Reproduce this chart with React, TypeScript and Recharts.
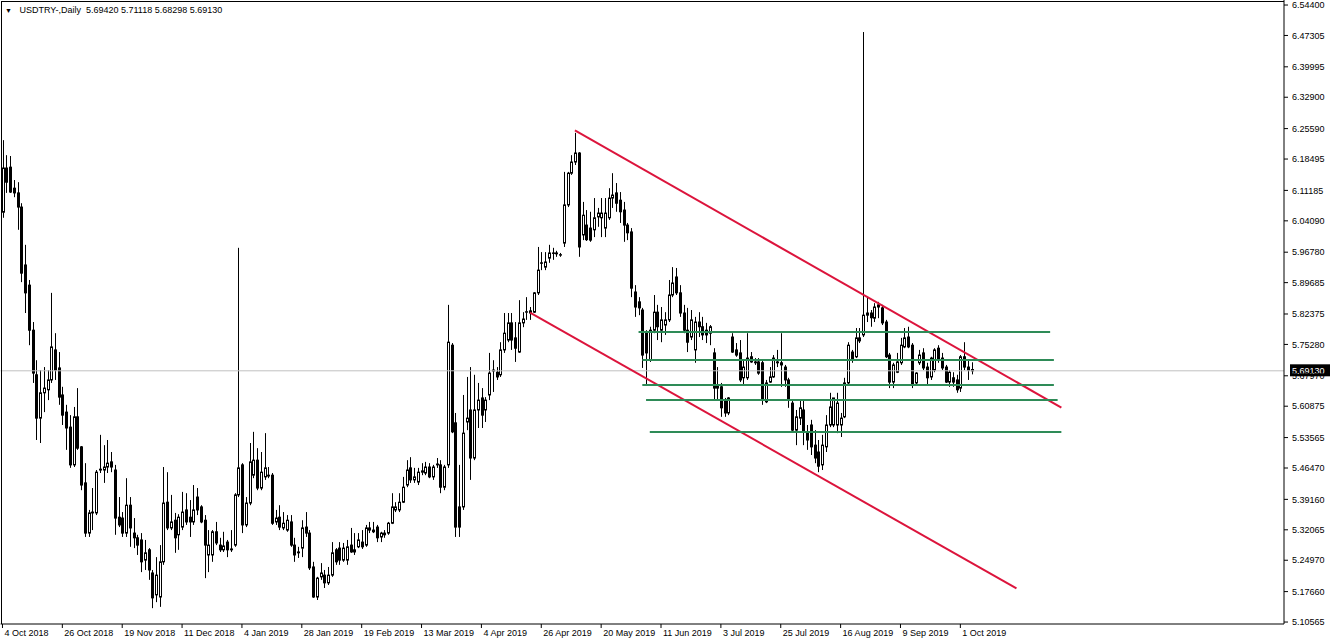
import React from 'react';
import { ComposedChart, Bar, XAxis, YAxis, ReferenceLine } from 'recharts';

const FONT = '"Liberation Sans", Arial, sans-serif';
const FS = 9;

const opens = [
  6.061, 6.164, 6.166, 6.117, 6.106, 6.073, 5.938, 5.891, 5.786, 5.682,
  5.581, 5.640, 5.647, 5.670, 5.740, 5.698, 5.635, 5.595, 5.560, 5.472,
  5.584, 5.514, 5.430, 5.313, 5.360, 5.360, 5.460, 5.460, 5.467, 5.479,
  5.460, 5.350, 5.348, 5.313, 5.378, 5.313, 5.302, 5.297, 5.250, 5.274,
  5.220, 5.169, 5.164, 5.246, 5.385, 5.325, 5.343, 5.309, 5.327, 5.367,
  5.350, 5.339, 5.397, 5.374, 5.343, 5.262, 5.262, 5.316, 5.285, 5.274,
  5.292, 5.274, 5.285, 5.402, 5.472, 5.332, 5.383, 5.448, 5.483, 5.418,
  5.444, 5.448, 5.448, 5.339, 5.350, 5.325, 5.320, 5.339, 5.285, 5.269,
  5.278, 5.327, 5.313, 5.234, 5.164, 5.211, 5.215, 5.197, 5.215, 5.274,
  5.278, 5.250, 5.250, 5.285, 5.274, 5.281, 5.292, 5.285, 5.325, 5.320,
  5.327, 5.304, 5.309, 5.313, 5.336, 5.367, 5.367, 5.385, 5.425, 5.465,
  5.437, 5.432, 5.455, 5.453, 5.467, 5.444, 5.472, 5.472, 5.420, 5.472,
  5.751, 5.570, 5.374, 5.374, 5.572, 5.600, 5.488, 5.600, 5.628, 5.600,
  5.635, 5.693, 5.688, 5.682, 5.740, 5.763, 5.803, 5.768, 5.735, 5.803,
  5.828, 5.831, 5.828, 5.873, 5.943, 5.933, 5.954, 5.966, 5.966, 5.961,
  5.989, 6.078, 6.152, 6.178, 6.199, 6.008, 6.031, 6.024, 6.020, 6.050,
  6.048, 6.024, 6.048, 6.094, 6.106, 6.089, 6.066, 6.031, 6.015, 5.875,
  5.852, 5.833, 5.779, 5.716, 5.786, 5.828, 5.786, 5.798, 5.810, 5.868,
  5.910, 5.873, 5.826, 5.786, 5.770, 5.740, 5.805, 5.794, 5.786, 5.779,
  5.733, 5.658, 5.654, 5.623, 5.593, 5.770, 5.740, 5.733, 5.675, 5.675,
  5.724, 5.712, 5.712, 5.710, 5.619, 5.665, 5.677, 5.712, 5.710, 5.700,
  5.670, 5.616, 5.553, 5.581, 5.600, 5.549, 5.565, 5.518, 5.502, 5.472,
  5.514, 5.565, 5.565, 5.565, 5.565, 5.584, 5.663, 5.735, 5.724, 5.768,
  5.775, 5.821, 5.826, 5.814, 5.840, 5.838, 5.805, 5.728, 5.665, 5.688,
  5.710, 5.747, 5.770, 5.751, 5.663, 5.710, 5.733, 5.700, 5.677, 5.693,
  5.744, 5.721, 5.700, 5.665, 5.675, 5.670, 5.651, 5.724, 5.700, 5.6942,
];

const highs = [
  6.229, 6.194, 6.192, 6.136, 6.131, 6.082, 5.985, 5.903, 5.805, 5.716,
  5.693, 5.700, 5.693, 5.873, 5.779, 5.735, 5.654, 5.612, 5.588, 5.607,
  5.651, 5.516, 5.476, 5.367, 5.418, 5.460, 5.542, 5.518, 5.530, 5.502,
  5.472, 5.397, 5.362, 5.441, 5.397, 5.348, 5.309, 5.313, 5.297, 5.278,
  5.227, 5.257, 5.285, 5.467, 5.455, 5.402, 5.360, 5.357, 5.409, 5.406,
  5.390, 5.425, 5.418, 5.378, 5.355, 5.320, 5.320, 5.339, 5.302, 5.316,
  5.297, 5.320, 5.406, 5.978, 5.476, 5.397, 5.523, 5.549, 5.511, 5.502,
  5.546, 5.467, 5.453, 5.367, 5.378, 5.362, 5.355, 5.355, 5.302, 5.281,
  5.343, 5.362, 5.320, 5.246, 5.211, 5.243, 5.227, 5.234, 5.292, 5.278,
  5.292, 5.290, 5.297, 5.325, 5.313, 5.313, 5.320, 5.332, 5.339, 5.339,
  5.332, 5.316, 5.320, 5.339, 5.406, 5.385, 5.406, 5.444, 5.483, 5.490,
  5.465, 5.465, 5.476, 5.479, 5.476, 5.472, 5.488, 5.483, 5.472, 5.845,
  5.756, 5.593, 5.472, 5.635, 5.677, 5.700, 5.682, 5.663, 5.651, 5.630,
  5.733, 5.716, 5.700, 5.758, 5.826, 5.826, 5.826, 5.805, 5.856, 5.828,
  5.863, 5.840, 5.875, 5.980, 5.968, 5.968, 5.985, 5.978, 5.971, 5.966,
  6.155, 6.155, 6.194, 6.246, 6.201, 6.085, 6.066, 6.062, 6.094, 6.071,
  6.094, 6.094, 6.117, 6.152, 6.129, 6.108, 6.085, 6.036, 6.024, 5.891,
  5.863, 5.838, 5.786, 5.794, 5.868, 5.845, 5.840, 5.828, 5.903, 5.933,
  5.931, 5.891, 5.845, 5.838, 5.833, 5.817, 5.828, 5.817, 5.803, 5.798,
  5.744, 5.700, 5.663, 5.628, 5.630, 5.779, 5.756, 5.763, 5.716, 5.779,
  5.735, 5.721, 5.721, 5.716, 5.670, 5.700, 5.728, 5.740, 5.779, 5.705,
  5.675, 5.623, 5.600, 5.623, 5.623, 5.565, 5.577, 5.553, 5.530, 5.542,
  5.588, 5.640, 5.628, 5.640, 5.593, 5.675, 5.758, 5.740, 5.791, 5.791,
  6.481, 5.861, 5.833, 5.849, 5.852, 5.845, 5.810, 5.733, 5.710, 5.733,
  5.768, 5.791, 5.794, 5.756, 5.688, 5.740, 5.744, 5.710, 5.724, 5.744,
  5.751, 5.733, 5.705, 5.693, 5.688, 5.682, 5.728, 5.758, 5.716, 5.71118,
];

const lows = [
  6.048, 6.106, 6.106, 6.096, 6.020, 5.898, 5.826, 5.751, 5.663, 5.530,
  5.523, 5.595, 5.623, 5.663, 5.670, 5.612, 5.565, 5.507, 5.465, 5.467,
  5.507, 5.413, 5.304, 5.304, 5.320, 5.355, 5.453, 5.430, 5.453, 5.455,
  5.309, 5.327, 5.304, 5.304, 5.281, 5.278, 5.262, 5.222, 5.227, 5.204,
  5.138, 5.152, 5.141, 5.239, 5.320, 5.320, 5.267, 5.274, 5.320, 5.332,
  5.304, 5.332, 5.355, 5.336, 5.208, 5.222, 5.246, 5.285, 5.269, 5.269,
  5.257, 5.269, 5.281, 5.397, 5.313, 5.327, 5.378, 5.441, 5.413, 5.413,
  5.437, 5.441, 5.332, 5.332, 5.320, 5.320, 5.316, 5.281, 5.246, 5.255,
  5.257, 5.304, 5.227, 5.162, 5.157, 5.204, 5.185, 5.192, 5.211, 5.239,
  5.239, 5.246, 5.239, 5.267, 5.262, 5.278, 5.276, 5.281, 5.313, 5.313,
  5.292, 5.292, 5.302, 5.309, 5.334, 5.362, 5.362, 5.383, 5.420, 5.430,
  5.430, 5.425, 5.448, 5.448, 5.441, 5.437, 5.465, 5.406, 5.413, 5.465,
  5.546, 5.304, 5.304, 5.367, 5.553, 5.437, 5.483, 5.558, 5.558, 5.572,
  5.623, 5.642, 5.670, 5.677, 5.733, 5.758, 5.740, 5.712, 5.733, 5.793,
  5.810, 5.810, 5.826, 5.868, 5.926, 5.926, 5.943, 5.950, 5.957, 5.957,
  5.980, 6.073, 6.148, 6.171, 5.957, 5.996, 5.994, 5.992, 6.003, 6.027,
  6.003, 6.003, 6.043, 6.071, 6.062, 6.036, 5.992, 5.996, 5.863, 5.817,
  5.821, 5.698, 5.659, 5.712, 5.779, 5.763, 5.758, 5.775, 5.805, 5.863,
  5.868, 5.817, 5.779, 5.735, 5.763, 5.710, 5.770, 5.763, 5.756, 5.751,
  5.623, 5.623, 5.584, 5.584, 5.588, 5.733, 5.724, 5.665, 5.659, 5.670,
  5.710, 5.705, 5.682, 5.612, 5.616, 5.663, 5.675, 5.700, 5.654, 5.654,
  5.605, 5.549, 5.518, 5.565, 5.518, 5.507, 5.495, 5.476, 5.455, 5.460,
  5.502, 5.560, 5.560, 5.546, 5.537, 5.581, 5.659, 5.710, 5.721, 5.756,
  5.770, 5.805, 5.794, 5.805, 5.814, 5.798, 5.721, 5.651, 5.651, 5.686,
  5.705, 5.744, 5.744, 5.651, 5.659, 5.705, 5.693, 5.659, 5.670, 5.688,
  5.710, 5.693, 5.663, 5.654, 5.654, 5.640, 5.642, 5.693, 5.670, 5.68298,
];

const closes = [
  6.164, 6.131, 6.108, 6.106, 6.073, 5.919, 5.873, 5.786, 5.686, 5.581,
  5.640, 5.651, 5.670, 5.747, 5.693, 5.630, 5.588, 5.558, 5.472, 5.584,
  5.511, 5.425, 5.313, 5.360, 5.362, 5.455, 5.462, 5.467, 5.476, 5.467,
  5.348, 5.332, 5.313, 5.378, 5.325, 5.302, 5.285, 5.246, 5.267, 5.227,
  5.162, 5.215, 5.246, 5.383, 5.325, 5.339, 5.302, 5.350, 5.362, 5.339,
  5.339, 5.367, 5.367, 5.339, 5.285, 5.285, 5.316, 5.290, 5.274, 5.283,
  5.274, 5.276, 5.402, 5.465, 5.332, 5.383, 5.479, 5.483, 5.418, 5.455,
  5.465, 5.446, 5.336, 5.348, 5.327, 5.336, 5.343, 5.285, 5.262, 5.267,
  5.325, 5.313, 5.232, 5.164, 5.208, 5.220, 5.197, 5.215, 5.267, 5.246,
  5.250, 5.278, 5.281, 5.269, 5.269, 5.297, 5.281, 5.325, 5.320, 5.316,
  5.302, 5.313, 5.313, 5.336, 5.374, 5.374, 5.385, 5.420, 5.460, 5.437,
  5.444, 5.455, 5.458, 5.467, 5.444, 5.467, 5.474, 5.420, 5.467, 5.758,
  5.549, 5.327, 5.327, 5.546, 5.581, 5.488, 5.600, 5.623, 5.588, 5.623,
  5.686, 5.691, 5.677, 5.740, 5.779, 5.803, 5.763, 5.744, 5.803, 5.812,
  5.829, 5.826, 5.873, 5.926, 5.942, 5.945, 5.966, 5.965, 5.964, 5.962,
  6.078, 6.152, 6.178, 6.199, 5.980, 6.054, 5.997, 5.996, 6.048, 6.059,
  6.059, 6.059, 6.094, 6.101, 6.082, 6.062, 6.031, 6.013, 5.884, 5.840,
  5.838, 5.728, 5.733, 5.786, 5.828, 5.794, 5.810, 5.810, 5.868, 5.896,
  5.873, 5.826, 5.786, 5.758, 5.810, 5.805, 5.794, 5.775, 5.775, 5.794,
  5.651, 5.651, 5.605, 5.593, 5.628, 5.735, 5.728, 5.670, 5.700, 5.721,
  5.712, 5.710, 5.686, 5.623, 5.663, 5.677, 5.721, 5.710, 5.705, 5.670,
  5.623, 5.553, 5.584, 5.605, 5.549, 5.530, 5.514, 5.488, 5.469, 5.518,
  5.565, 5.607, 5.628, 5.616, 5.581, 5.663, 5.751, 5.716, 5.768, 5.761,
  5.821, 5.826, 5.815, 5.840, 5.845, 5.803, 5.724, 5.665, 5.705, 5.712,
  5.751, 5.768, 5.747, 5.659, 5.686, 5.728, 5.698, 5.675, 5.721, 5.740,
  5.716, 5.698, 5.665, 5.688, 5.665, 5.647, 5.724, 5.700, 5.693, 5.6913,
];

// date labels on the time axis, at bar indices
const dateTickBars = [0, 16, 32, 48, 64, 80, 96, 112, 128, 144, 160, 176, 192, 208, 224, 240, 256];
const dateTickLabels = [
  '4 Oct 2018', '26 Oct 2018', '19 Nov 2018', '11 Dec 2018', '4 Jan 2019', '28 Jan 2019',
  '19 Feb 2019', '13 Mar 2019', '4 Apr 2019', '26 Apr 2019', '20 May 2019', '11 Jun 2019',
  '3 Jul 2019', '25 Jul 2019', '16 Aug 2019', '9 Sep 2019', '1 Oct 2019',
];

const priceTicks = [
  6.544, 6.47305, 6.39995, 6.329, 6.2559, 6.18495, 6.11185, 6.0409, 5.9678, 5.89685, 5.82375,
  5.7528, 5.6797, 5.60875, 5.53565, 5.4647, 5.3916, 5.32065, 5.2497, 5.1766, 5.10565,
];
const priceMin = 5.10107;
const priceMax = 6.5557;

// drawn objects: channel lines (bar index, price)
const channelUpper = [{ bar: 153, price: 6.2517 }, { bar: 283, price: 5.6055 }];
const channelLower = [{ bar: 141, price: 5.8272 }, { bar: 271, price: 5.184 }];
// horizontal levels: [price, fromBar, toBar]
const levels = [
  [5.7817, 170, 280],
  [5.7165, 171, 281],
  [5.6582, 171, 281],
  [5.6232, 172, 282],
  [5.5486, 173, 283],
];

const lastPrice = 5.6913;
const totalSlots = 343;

const data = Array.from({ length: totalSlots }, (_, i) =>
  i < opens.length
    ? { i, o: opens[i], h: highs[i], l: lows[i], c: closes[i], range: [lows[i], highs[i]] }
    : { i, range: null }
);

const Candle = (props: any) => {
  const { x, y, width, height, payload } = props;
  if (!payload || payload.o == null) return null;
  const { o, h, l, c } = payload;
  const top = Math.min(y, y + height);
  const hh = Math.abs(height);
  const k = h - l > 0 ? hh / (h - l) : 0;
  const cx = Math.round(x + width / 2) + 0.5;
  const yO = top + (h - o) * k;
  const yC = top + (h - c) * k;
  const bTop = Math.min(yO, yC);
  const bBot = Math.max(yO, yC);
  const up = c >= o;
  return (
    <g>
      <line x1={cx} x2={cx} y1={top} y2={top + hh} stroke="#000" strokeWidth={1} />
      <rect
        x={cx - 1}
        y={bTop}
        width={2}
        height={Math.max(bBot - bTop, 0.01)}
        fill={up ? '#fff' : '#000'}
        stroke="#000"
        strokeWidth={1}
      />
    </g>
  );
};

const DateTick = (props: any) => {
  const { x, y, payload } = props;
  const idx = dateTickBars.indexOf(payload.value);
  if (idx < 0) return null;
  return (
    <text x={x + 2} y={y} dy="0.71em" textAnchor="start" fill="#000" fontSize={FS} fontFamily={FONT}>
      {dateTickLabels[idx]}
    </text>
  );
};

const PriceTag = (props: any) => {
  const vb = props.viewBox || {};
  const x = (vb.x ?? 0) + (vb.width ?? 0);
  const y = vb.y ?? 0;
  return (
    <g>
      <rect x={x + 6} y={y - 6.5} width={40} height={12} fill="#000" />
      <text x={x + 8} y={y} dy="0.33em" fill="#fff" fontSize={FS} fontFamily={FONT}>
        {lastPrice.toFixed(5)}
      </text>
    </g>
  );
};

export default function App() {
  return (
    <div style={{ position: 'relative', width: 1332, height: 644, background: '#fff' }}>
      <style>{'body{margin:0;background:#fff}'}</style>
      <ComposedChart
        width={1332}
        height={644}
        data={data}
        margin={{ top: 0, right: 0, bottom: 0, left: 0.6 }}
        barCategoryGap={0}
      >
        <XAxis
          dataKey="i"
          type="category"
          ticks={dateTickBars}
          interval={0}
          tick={<DateTick />}
          tickSize={4}
          tickMargin={2}
          height={20}
          axisLine={{ stroke: '#000' }}
          tickLine={{ stroke: '#000' }}
        />
        <YAxis
          orientation="right"
          type="number"
          domain={[priceMin, priceMax]}
          allowDataOverflow
          ticks={priceTicks}
          interval={0}
          tickFormatter={(v: number) => v.toFixed(5)}
          width={48}
          tickSize={4}
          tickMargin={4}
          tick={{ fill: '#000', fontSize: FS, fontFamily: FONT }}
          axisLine={{ stroke: '#000' }}
          tickLine={{ stroke: '#000' }}
        />
        <ReferenceLine y={lastPrice} stroke="#c0c0c0" strokeWidth={1} label={<PriceTag />} />
        <Bar dataKey="range" shape={<Candle />} isAnimationActive={false} />
        <ReferenceLine
          segment={[
            { x: channelUpper[0].bar, y: channelUpper[0].price },
            { x: channelUpper[1].bar, y: channelUpper[1].price },
          ]}
          stroke="#dc143c"
          strokeWidth={2}
        />
        <ReferenceLine
          segment={[
            { x: channelLower[0].bar, y: channelLower[0].price },
            { x: channelLower[1].bar, y: channelLower[1].price },
          ]}
          stroke="#dc143c"
          strokeWidth={2}
        />
        {levels.map((lv, k) => (
          <ReferenceLine
            key={k}
            segment={[
              { x: lv[1], y: lv[0] },
              { x: lv[2], y: lv[0] },
            ]}
            stroke="#2e8b57"
            strokeWidth={2}
          />
        ))}
      </ComposedChart>
      <div
        style={{
          position: 'absolute',
          left: 1,
          top: 1,
          width: 1283,
          height: 623,
          borderLeft: '1px solid #000',
          borderTop: '1px solid #000',
          boxSizing: 'border-box',
          pointerEvents: 'none',
        }}
      />
      <div
        style={{
          position: 'absolute',
          left: 5,
          top: 4,
          fontFamily: FONT,
          fontSize: FS,
          color: '#000',
          whiteSpace: 'pre',
          lineHeight: '12px',
        }}
      >
        <span style={{ fontSize: 7 }}>▼</span>
        {'   USDTRY-,Daily  5.69420 5.71118 5.68298 5.69130'}
      </div>
    </div>
  );
}
